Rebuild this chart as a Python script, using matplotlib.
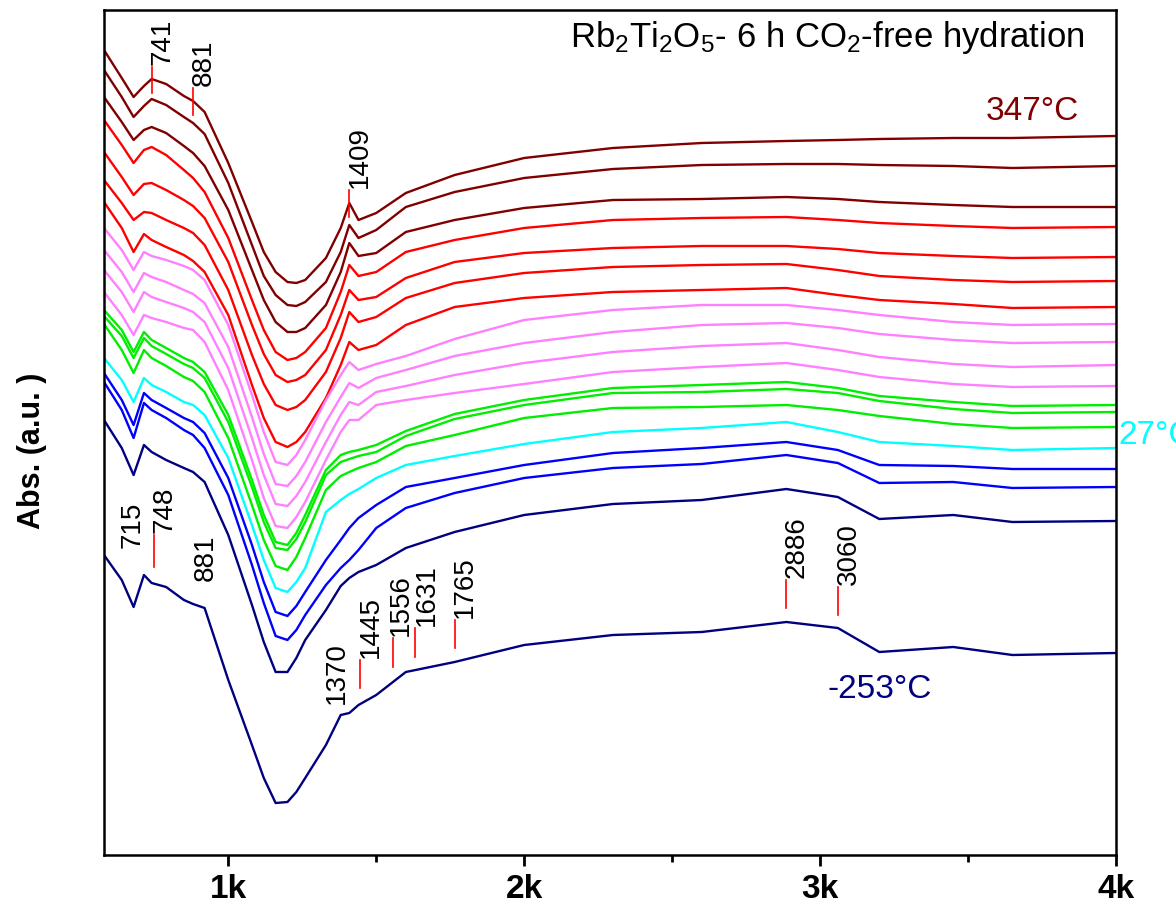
import numpy as np
import matplotlib
matplotlib.use("Agg")
import matplotlib.pyplot as plt
from matplotlib.ticker import MultipleLocator, FuncFormatter

plt.rcParams['font.family'] = ['Liberation Sans', 'DejaVu Sans']
plt.rcParams['mathtext.fontset'] = 'custom'
plt.rcParams['mathtext.rm'] = 'Liberation Sans'
plt.rcParams['mathtext.it'] = 'Liberation Sans:italic'

# wavenumber grid (cm-1) the traces were read at
wn = [580, 640, 680, 715, 741, 790, 850, 881, 920, 1000, 1080, 1120, 1160, 1200, 1230, 1260, 1330,
      1380, 1409, 1440, 1500, 1600, 1765, 2000, 2300, 2600, 2886, 3060, 3200, 3450, 3650, 4000]

# traces, read as depth below the top of the plot (bigger = lower absorbance), top -> bottom
c1 = [50, 78, 97, 86, 79, 84, 96, 101, 112, 163, 222, 252, 272, 282, 283, 280, 258, 228, 203, 220, 213, 193, 175, 158, 148, 143, 141, 140, 139, 138, 138, 136]
c2 = [70, 97, 117, 106, 99, 105, 117, 123, 134, 183, 245, 276, 295, 305, 306, 302, 282, 252, 225, 238, 230, 207, 192, 178, 169, 165, 164, 164, 165, 166, 168, 166]
c3 = [97, 122, 140, 130, 127, 133, 146, 153, 166, 210, 270, 300, 322, 332, 332, 328, 305, 272, 243, 256, 253, 232, 220, 208, 200, 199, 197, 199, 202, 205, 207, 207]
c4 = [120, 145, 163, 150, 147, 155, 170, 178, 192, 238, 300, 330, 352, 360, 358, 352, 328, 292, 265, 276, 272, 252, 240, 228, 220, 218, 217, 220, 223, 226, 228, 227]
c5 = [152, 177, 195, 184, 183, 190, 200, 206, 218, 262, 325, 354, 375, 382, 380, 375, 350, 315, 290, 300, 297, 278, 262, 253, 248, 246, 246, 249, 253, 256, 258, 257]
c6 = [180, 203, 220, 212, 213, 220, 228, 233, 245, 290, 355, 384, 405, 410, 407, 400, 372, 338, 312, 322, 317, 298, 283, 273, 267, 265, 264, 270, 276, 280, 282, 281]
c7 = [202, 228, 252, 234, 240, 247, 255, 261, 272, 315, 385, 418, 442, 447, 442, 432, 398, 365, 342, 350, 345, 325, 307, 298, 292, 290, 288, 295, 300, 304, 308, 307]
p1 = [228, 250, 270, 252, 256, 260, 266, 270, 280, 325, 395, 432, 462, 465, 455, 440, 400, 375, 362, 370, 364, 356, 339, 320, 310, 305, 305, 310, 315, 322, 325, 324]
p2 = [250, 272, 292, 273, 277, 282, 290, 294, 303, 347, 417, 454, 484, 486, 476, 462, 422, 397, 383, 388, 378, 370, 356, 343, 332, 325, 323, 328, 334, 340, 343, 342]
p3 = [270, 292, 312, 292, 297, 302, 308, 312, 322, 368, 438, 475, 504, 506, 496, 482, 442, 415, 402, 405, 392, 386, 375, 363, 352, 346, 343, 350, 357, 364, 367, 365]
p4 = [292, 315, 335, 315, 318, 322, 328, 330, 342, 390, 460, 498, 526, 528, 517, 502, 460, 432, 420, 420, 405, 400, 393, 384, 372, 367, 363, 370, 377, 384, 387, 386]
g1 = [310, 330, 352, 332, 340, 348, 358, 362, 372, 415, 480, 515, 542, 545, 533, 515, 470, 455, 452, 450, 445, 431, 414, 400, 388, 385, 382, 388, 396, 402, 406, 405]
g2 = [316, 336, 358, 338, 346, 354, 364, 368, 378, 422, 487, 522, 548, 550, 539, 522, 475, 462, 459, 456, 452, 436, 419, 405, 393, 392, 389, 393, 401, 409, 413, 412]
g3 = [324, 350, 373, 350, 358, 366, 377, 381, 392, 438, 505, 540, 566, 570, 557, 538, 490, 476, 472, 468, 462, 446, 435, 418, 408, 407, 405, 410, 416, 424, 428, 427]
cy = [358, 380, 402, 378, 385, 392, 402, 405, 415, 458, 525, 560, 588, 592, 582, 568, 512, 500, 494, 489, 478, 465, 456, 444, 432, 428, 422, 432, 442, 446, 450, 448]
b1 = [373, 400, 425, 393, 400, 408, 418, 422, 433, 478, 545, 582, 612, 616, 606, 592, 560, 540, 528, 518, 505, 487, 478, 465, 453, 448, 442, 450, 465, 466, 469, 469]
b2 = [382, 410, 438, 403, 410, 418, 430, 435, 448, 495, 565, 603, 636, 640, 630, 615, 585, 568, 560, 550, 528, 508, 493, 478, 468, 464, 455, 463, 483, 482, 488, 487]
n1 = [420, 448, 475, 445, 452, 460, 468, 472, 482, 535, 605, 642, 672, 672, 658, 640, 610, 586, 578, 572, 565, 548, 532, 515, 504, 500, 489, 497, 519, 515, 522, 521]
n2 = [555, 580, 607, 575, 583, 587, 600, 604, 608, 680, 745, 778, 803, 802, 792, 778, 745, 715, 713, 705, 695, 672, 662, 645, 635, 632, 622, 628, 652, 647, 655, 653]

traces = [c1, c2, c3, c4, c5, c6, c7, p1, p2, p3, p4, g1, g2, g3, cy, b1, b2, n1, n2]
colors = ['#800000'] * 3 + ['#ff0000'] * 4 + ['#ff80ff'] * 4 + ['#00ee00'] * 3 + \
         ['#00ffff'] + ['#0000ff'] * 2 + ['#000080'] * 2

# peak markers: wavenumber, marker bottom, marker top (same depth units)
mark_wn = [741, 881, 1409, 748, 1445, 1556, 1631, 1765, 2886, 3060]
mark_lo = [93, 115, 217, 567, 688, 667, 657, 648, 608, 615]
mark_hi = [67, 88, 190, 535, 660, 638, 628, 620, 580, 587]
lbl_dx = [-8, -8, -8, -8, -8, -16, -4, -8, -8, -8]
# labels without a marker
text_wn = [678, 925, 1366]
text_lbl = ['715', '881', '1370']
text_lo = [548, 581, 704]

TOP = 855.0


def to_abs(v):
    return (TOP - np.asarray(v, dtype=float)) / 100.0


fig = plt.figure(figsize=(11.76, 9.19), dpi=100)
ax = fig.add_axes([104 / 1176, 64 / 919, 1012 / 1176, 845 / 919])

for tr, col in zip(traces, colors):
    ax.plot(wn, to_abs(tr), color=col, lw=1.7)

for w, lo, hi, dx in zip(mark_wn, mark_lo, mark_hi, lbl_dx):
    ax.plot([w, w], to_abs([lo, hi]), color='red', lw=1.2)
    ax.text(w + dx, to_abs(hi) + 0.02, str(w), rotation=90, ha='left', va='bottom', fontsize=20)

for w, s, lo in zip(text_wn, text_lbl, text_lo):
    ax.text(w, to_abs(lo), s, rotation=90, ha='center', va='bottom', fontsize=20)

ax.text(3895, to_abs(37), r"Rb$_2$Ti$_2$O$_5$- 6 h CO$_2$-free hydration",
        ha='right', va='center', fontsize=25)
ax.text(3716, to_abs(111), "347°C", color='#800000', ha='center', va='center', fontsize=24)
ax.text(4008, to_abs(435), "27°C", color='#00ffff', ha='left', va='center', fontsize=24, clip_on=False)
ax.text(3202, to_abs(690), "-253°C", color='#000080', ha='center', va='center', fontsize=24)

ax.set_xlim(580, 4000)
ax.set_ylim(0, 8.45)
ax.xaxis.set_major_locator(MultipleLocator(1000))
ax.xaxis.set_minor_locator(MultipleLocator(500))
ax.xaxis.set_major_formatter(FuncFormatter(lambda v, p: "%dk" % int(round(v / 1000))))
ax.set_yticks([])
ax.tick_params(axis='x', which='major', direction='out', length=8, width=2, labelsize=24, pad=6)
ax.tick_params(axis='x', which='minor', direction='out', length=5, width=2)
for lab in ax.get_xticklabels():
    lab.set_fontweight('bold')
for sp in ax.spines.values():
    sp.set_linewidth(1.8)

ax.set_ylabel("Abs. (a.u. )", fontsize=22, fontweight='bold')
ax.yaxis.set_label_coords(-0.056, 0.478)

fig.savefig("out.png", dpi=100)
